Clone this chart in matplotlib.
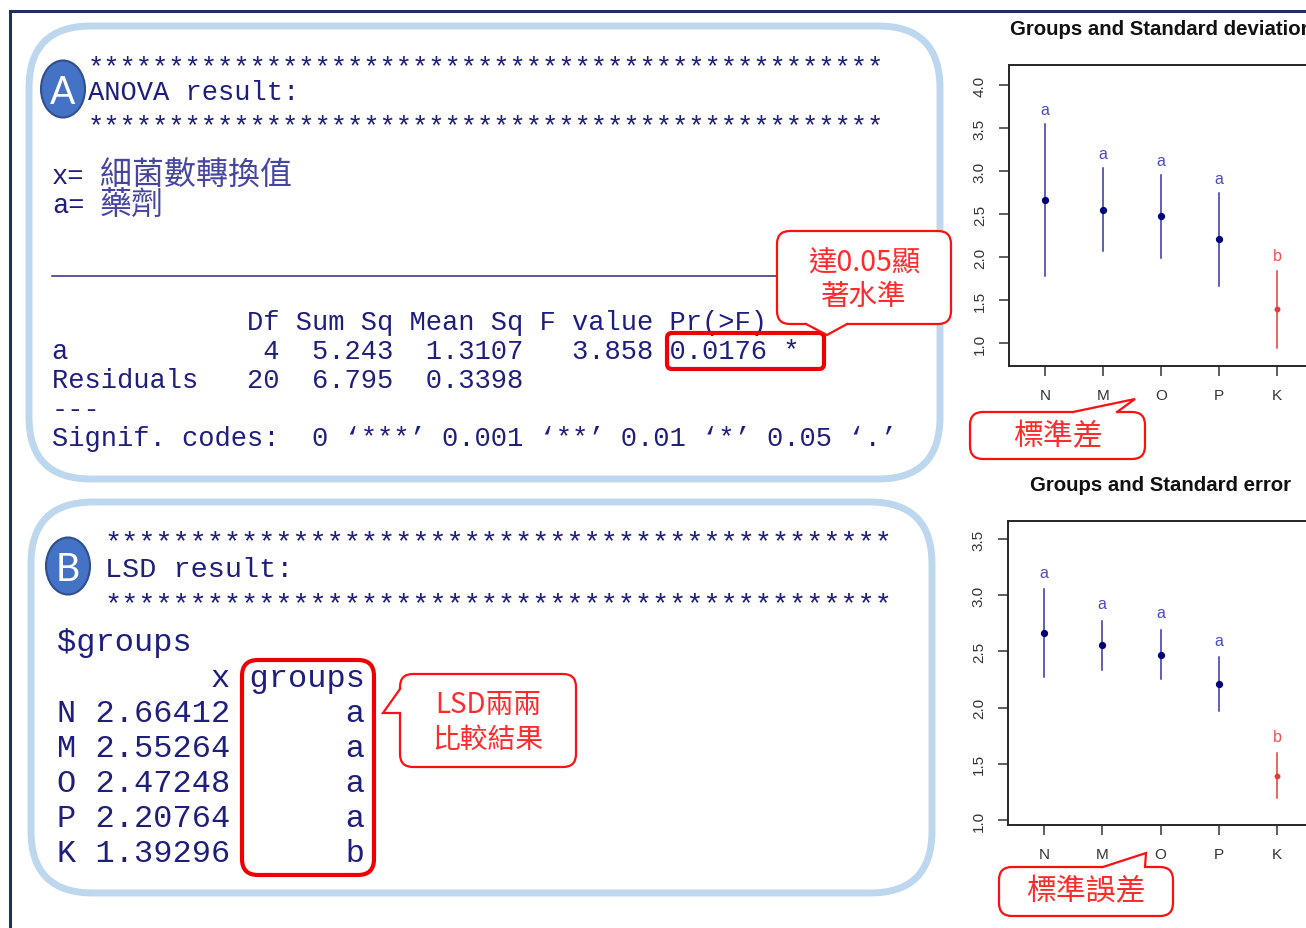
import matplotlib
matplotlib.use("Agg")
import matplotlib.pyplot as plt
from matplotlib.patches import FancyBboxPatch, Ellipse, Polygon
from matplotlib.lines import Line2D

# ---- data -------------------------------------------------------------
groups = ["N", "M", "O", "P", "K"]
means = [2.66412, 2.55264, 2.47248, 2.20764, 1.39296]
sd = [0.88, 0.48, 0.485, 0.54, 0.45]
se = [0.39, 0.22, 0.22, 0.24, 0.20]
letters = ["a", "a", "a", "a", "b"]

anova_header = "            Df Sum Sq Mean Sq F value Pr(>F)"
anova_rows = [
    "a            4  5.243  1.3107   3.858 0.0176 *",
    "Residuals   20  6.795  0.3398",
    "---",
    "Signif. codes:  0 \u2018***\u2019 0.001 \u2018**\u2019 0.01 \u2018*\u2019 0.05 \u2018.\u2019",
]
lsd_means = ["2.66412", "2.55264", "2.47248", "2.20764", "1.39296"]

W, H = 1306, 929
MONO = "Liberation Mono"
CJK = ["Noto Sans CJK TC", "DejaVu Sans"]
NAVY = "#1e1e7c"
RED = "#ff1010"
PANEL = "#bdd7ee"

fig = plt.figure(figsize=(W / 100, H / 100), dpi=100)
fig.patch.set_facecolor("white")

# full-figure canvas in pixel units (y grows downward)
ax0 = fig.add_axes([0, 0, 1, 1], zorder=0)
ax0.set_xlim(0, W)
ax0.set_ylim(H, 0)
ax0.axis("off")

# outer frame
ax0.add_line(Line2D([10, W], [12, 12], color="#1f3060", lw=2.2))
ax0.add_line(Line2D([10, 10], [12, H], color="#1f3060", lw=2.2))


def rbox(x0, y0, x1, y1, r, ec, lw, fc="none", z=2):
    p = FancyBboxPatch((x0, y0), x1 - x0, y1 - y0,
                       boxstyle=f"round,pad=0,rounding_size={r}",
                       fc=fc, ec=ec, lw=lw, zorder=z)
    ax0.add_patch(p)


def callout(x0, y0, x1, y1, b1, apex, b2, inner, lines, ys, cx, size):
    rbox(x0, y0, x1, y1, 13, RED, 1.6, fc="white", z=5)
    ax0.add_patch(Polygon([inner[0], b1, apex, b2, inner[1]], closed=True,
                          fc="white", ec="none", zorder=6))
    ax0.add_line(Line2D([b1[0], apex[0], b2[0]], [b1[1], apex[1], b2[1]],
                        color=RED, lw=1.6, zorder=7, solid_joinstyle="miter"))
    for s, yy in zip(lines, ys):
        ax0.text(cx, yy, s, color="#ff2a2a", fontsize=size, family=CJK,
                 ha="center", va="center", zorder=8)


def badge(cx, cy, letter):
    ax0.add_patch(Ellipse((cx, cy), 44, 57, fc="#4472c4", ec="#2f4f8f",
                          lw=1.5, zorder=4))
    ax0.text(cx, cy + 3, letter, color="white", fontsize=27, family="Lato",
             ha="center", va="center", zorder=5)


# ---- panel A : ANOVA ----------------------------------------------------
rbox(29, 27, 940, 480, 62, PANEL, 5)
badge(63, 90, "A")
ax0.text(88, 75, "*" * 49, family=MONO, fontsize=19.5, color=NAVY, va="baseline")
ax0.text(88, 100, "ANOVA result:", family=MONO, fontsize=19.5, color=NAVY, va="baseline")
ax0.text(88, 134, "*" * 49, family=MONO, fontsize=19.5, color=NAVY, va="baseline")

ax0.text(52, 184, "x=", family=MONO, fontsize=19.5, color=NAVY, va="baseline")
ax0.text(100, 185, "細菌數轉換值", family=CJK, fontsize=23, color="#4646a2", va="baseline")
ax0.text(52, 213, "a=", family=MONO, fontsize=19.5, color=NAVY, va="baseline")
ax0.text(100, 214, "藥劑", family=CJK, fontsize=23, color="#4646a2", va="baseline")

ax0.add_line(Line2D([52, 778], [277, 277], color="#2a2a80", lw=1.1))

ax0.text(52, 330, anova_header, family=MONO, fontsize=19.5, color=NAVY, va="baseline")
for i, row in enumerate(anova_rows):
    ax0.text(52, 359 + 29 * i, row, family=MONO, fontsize=19.5, color=NAVY, va="baseline")

rbox(667, 334, 824, 370, 5, "#ee0000", 3.0, z=4)
callout(777, 232, 951, 325, (806, 325), (827, 336), (847, 325),
        [(808, 322), (845, 322)], ["達0.05顯", "著水準"], [264, 297], 864, 20.5)

# ---- panel B : LSD ------------------------------------------------------
rbox(31, 503, 932, 894, 62, PANEL, 5)
badge(68, 567, "B")
ax0.text(105, 550, "*" * 46, family=MONO, fontsize=20.5, color=NAVY, va="baseline")
ax0.text(105, 577, "LSD result:", family=MONO, fontsize=20.5, color=NAVY, va="baseline")
ax0.text(105, 612, "*" * 46, family=MONO, fontsize=20.5, color=NAVY, va="baseline")

ax0.text(57, 651, "$groups", family=MONO, fontsize=23, color=NAVY, va="baseline")
ax0.text(57, 687, "        x groups", family=MONO, fontsize=23, color=NAVY, va="baseline")
for i, (g, m, l) in enumerate(zip(groups, lsd_means, letters)):
    ax0.text(57, 722 + 35 * i, f"{g} {m}      {l}", family=MONO, fontsize=23,
             color=NAVY, va="baseline")

rbox(242, 661, 374, 876, 16, "#ee0000", 3.0, z=4)
callout(400, 675, 576, 768, (400, 690), (383, 714), (400, 714),
        [(403, 690), (403, 714)], ["LSD兩兩", "比較結果"], [705, 740], 488, 20)

# ---- chart callouts -----------------------------------------------------
callout(970, 413, 1145, 460, (1073, 413), (1135, 400), (1117, 413),
        [(1073, 416), (1117, 416)], ["標準差"], [437], 1058, 21.5)
callout(999, 868, 1173, 917, (1103, 868), (1146, 854), (1145, 868),
        [(1103, 871), (1145, 871)], ["標準誤差"], [892], 1086, 21.5)


# ---- right-hand charts --------------------------------------------------
def chart(rect_px, spread, ylim, yticks, label_gap, title):
    l, t, r, b = rect_px
    ax = fig.add_axes([l / W, 1 - b / H, (r - l) / W, (b - t) / H], zorder=3)
    ax.patch.set_alpha(0)
    x = list(range(1, len(groups) + 1))
    for xi, m, s, lab in zip(x, means, spread, letters):
        line_c = "#e83a3a" if lab == "b" else "#3434a8"
        dot_c = "#e83a3a" if lab == "b" else "#00007a"
        txt_c = "#f05050" if lab == "b" else "#4a4ac8"
        ax.plot([xi, xi], [m - s, m + s], color=line_c, lw=1.1)
        ax.plot([xi], [m], "o", color=dot_c, ms=4.2 if lab != "b" else 3.2)
        ax.text(xi, m + s + label_gap, lab, color=txt_c, fontsize=11.5,
                family="Liberation Sans", ha="center", va="center")
    ax.set_xlim(0.38, 5.62)
    ax.set_ylim(*ylim)
    ax.set_xticks(x)
    ax.set_xticklabels(groups)
    ax.set_yticks(yticks)
    ax.set_yticklabels([f"{v:.1f}" for v in yticks], rotation=90, va="center")
    for s in ax.spines.values():
        s.set_color("#262626")
        s.set_linewidth(1.4)
    ax.tick_params(axis="both", direction="out", length=7, width=1.1,
                   color="#333333", labelcolor="#333333")
    ax.tick_params(axis="y", pad=9, labelsize=11)
    ax.tick_params(axis="x", pad=9, labelsize=11)
    for t_ in ax.get_xticklabels() + ax.get_yticklabels():
        t_.set_family("Liberation Sans")
    ax.set_title(title, fontsize=14.7, fontweight="bold", family="Liberation Sans",
                 color="#111111", pad=22.5)
    return ax


chart((1009, 66, 1313, 367), sd, (0.733, 4.233),
      [1.0, 1.5, 2.0, 2.5, 3.0, 3.5, 4.0], 0.17, "Groups and Standard deviation")
chart((1008, 522, 1313, 826), se, (0.956, 3.66),
      [1.0, 1.5, 2.0, 2.5, 3.0, 3.5], 0.15, "Groups and Standard error")

fig.savefig("out.png", dpi=100, facecolor="white")
